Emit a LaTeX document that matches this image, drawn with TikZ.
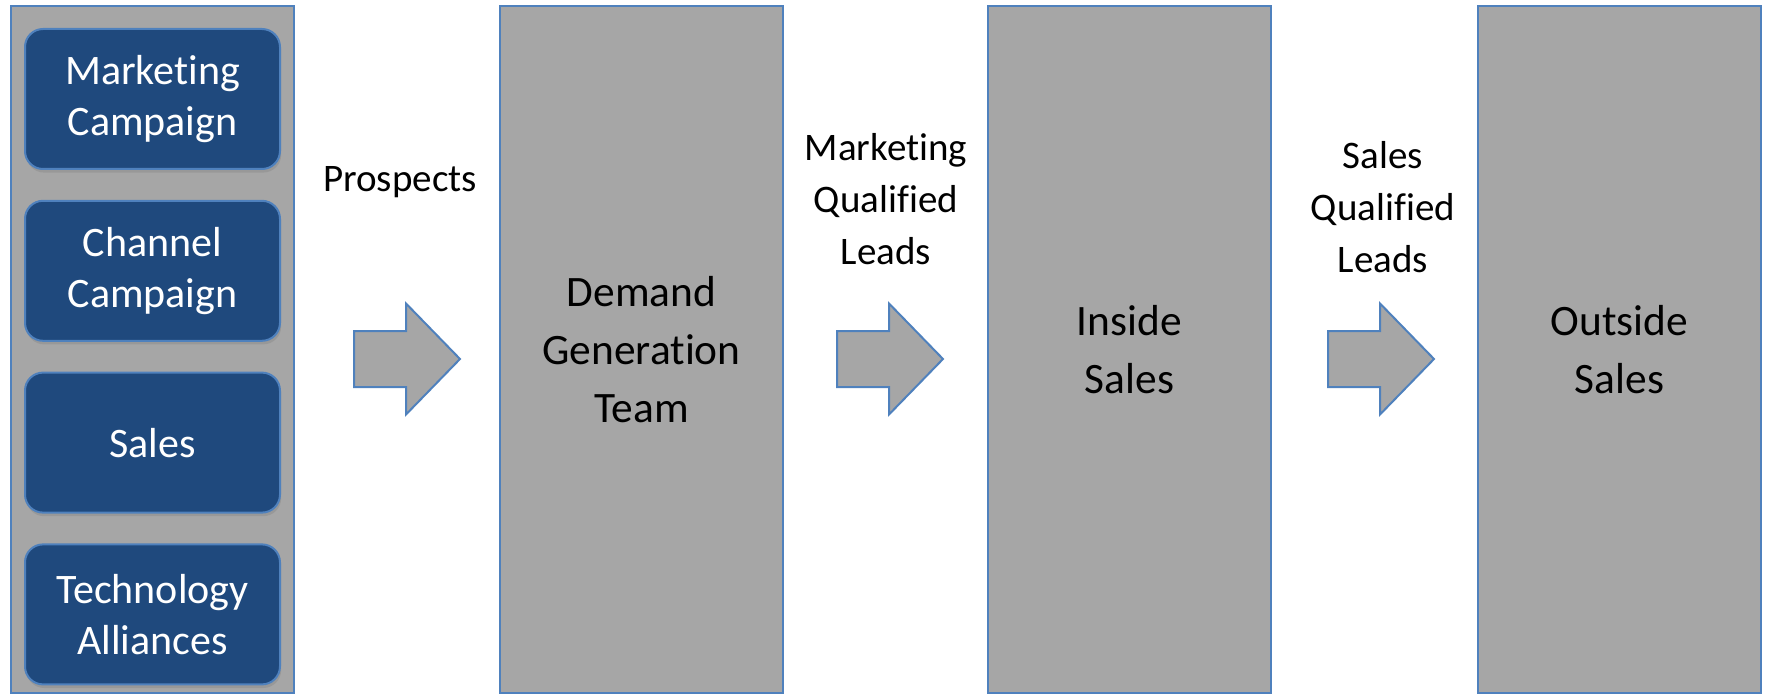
\documentclass[tikz,border=0pt]{standalone}
\usepackage{fontspec}
\setmainfont{Carlito}[Ligatures=NoCommon]
\usepackage{tikz}
\usetikzlibrary{calc}
\usetikzlibrary{shapes.arrows}
\usetikzlibrary{shadows}
\definecolor{panelgray}{HTML}{A6A6A6}
\definecolor{edgeblue}{HTML}{4F81BD}
\definecolor{boxblue}{HTML}{1F497D}
\tikzstyle{stagebox} = [rectangle, 
minimum width=141.5pt, 
minimum height=343.5pt, 
inner sep=0pt, text centered, align=center, 
draw=edgeblue, line width=1pt, fill=panelgray, 
font=\fontsize{21.7}{29}\selectfont]
\tikzstyle{sourcebox} = [rectangle, rounded corners=9pt, 
minimum width=127.5pt, 
minimum height=70pt, 
text centered, align=center, text=white, 
draw=edgeblue, line width=1pt, fill=boxblue, 
drop shadow={shadow xshift=0.6pt, shadow yshift=-1.8pt, opacity=0.35}, 
font=\fontsize{21}{25.5}\selectfont]
\tikzstyle{flowarrow} = [single arrow, anchor=tail, 
single arrow head extend=13.75pt, 
single arrow tip angle=91.6, 
inner xsep=0pt, inner ysep=13.5pt, 
minimum height=53pt, 
draw=edgeblue, line width=1pt, fill=panelgray]
\tikzstyle{flowtext} = [text centered, align=center, font=\fontsize{19.5}{26}\selectfont]

\begin{document}
\begin{tikzpicture} [x=0.5pt, y=-0.5pt]
    \useasboundingbox (0,0) rectangle (1766,695);

    % the stages
    \node (Sources) [stagebox] at (152.5,349.5) {};
    \node (DemandGen) [stagebox] at (641.5,349.5) {Demand\\Generation\\Team};
    \node (Inside) [stagebox] at ($(DemandGen)+(488,0)$) {Inside\\Sales};
    \node (Outside) [stagebox] at ($(Inside)+(490,0)$) {Outside\\Sales};

    % the lead sources
    \node (Marketing) [sourcebox] at (152.5,99) {Marketing\\Campaign};
    \node (Channel) [sourcebox] at ($(Marketing)+(0,171.8)$) {Channel\\Campaign};
    \node (Sales) [sourcebox] at ($(Channel)+(0,171.8)$) {Sales};
    \node (Alliances) [sourcebox] at ($(Sales)+(0,171.8)$) {Technology\\Alliances};

    % the hand-over arrows
    \node (ToDemand) [flowarrow] at (353,359) {};
    \node (ToInside) [flowarrow] at (836,359) {};
    \node (ToOutside) [flowarrow] at (1327,359) {};

    % annotations
    \node (Prospects) [flowtext] at ($(ToDemand.tail)+(47,-177)$) {Prospects};
    \node (MQL) [flowtext] at ($(ToInside.tail)+(50,-160)$) {Marketing\\Qualified\\Leads};
    \node (SQL) [flowtext] at ($(ToOutside.tail)+(56,-152)$) {Sales\\Qualified\\Leads};

\end{tikzpicture}
\end{document}
